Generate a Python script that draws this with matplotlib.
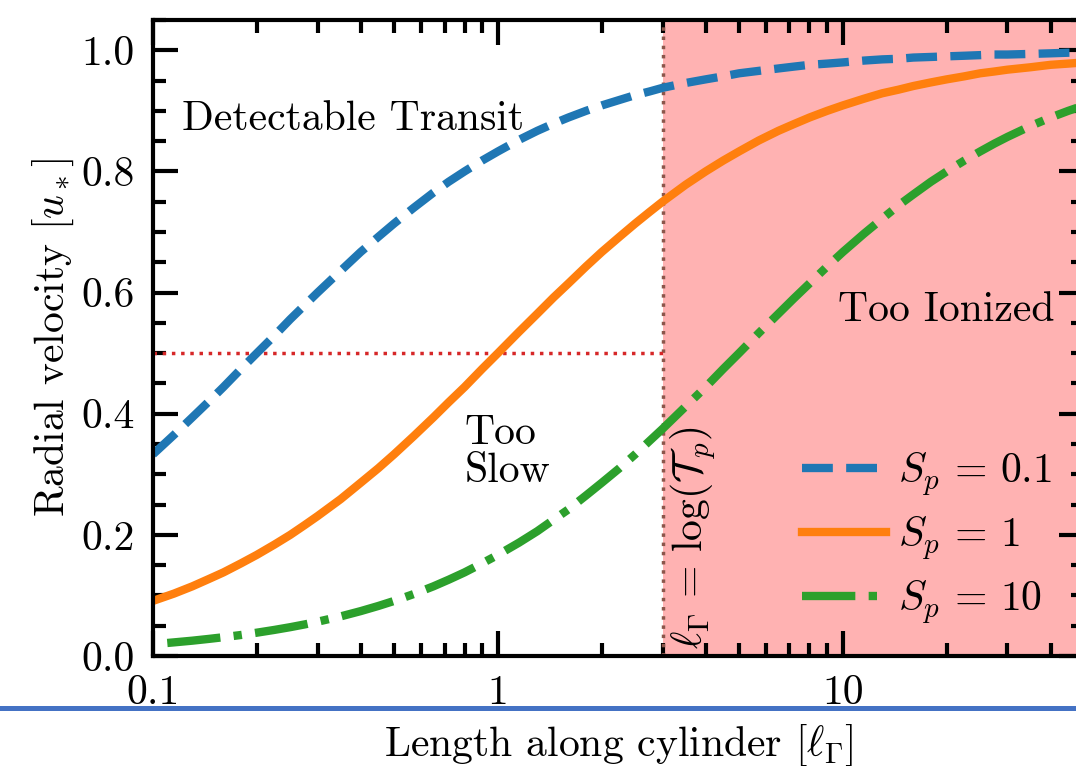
import matplotlib
matplotlib.use("Agg")
import matplotlib.pyplot as plt
from matplotlib.lines import Line2D
from matplotlib.ticker import MultipleLocator, LogLocator, NullFormatter

plt.rcParams['font.family'] = 'serif'
plt.rcParams['font.serif'] = ['cmr10']
plt.rcParams['mathtext.fontset'] = 'cm'
plt.rcParams['axes.formatter.use_mathtext'] = True
plt.rcParams['axes.unicode_minus'] = False

# values
length = [0.1, 0.115, 0.13, 0.145, 0.16, 0.18, 0.2, 0.225, 0.25, 0.275, 0.3, 0.35, 0.4,
          0.45, 0.5, 0.57, 0.65, 0.72, 0.8, 0.9, 1.0, 1.15, 1.3, 1.45, 1.6, 1.8, 2.0,
          2.25, 2.5, 2.75, 3.0, 3.5, 4.0, 4.5, 5.0, 5.7, 6.5, 7.2, 8.0, 9.0, 10, 11.5,
          13, 14.5, 16, 18, 20, 22.5, 25, 27.5, 30, 35, 40, 45, 50]
vel_s01 = [0.333, 0.365, 0.394, 0.420, 0.444, 0.474, 0.5, 0.529, 0.556, 0.579, 0.6,
           0.636, 0.667, 0.692, 0.714, 0.740, 0.765, 0.783, 0.8, 0.818, 0.833, 0.852,
           0.867, 0.879, 0.889, 0.9, 0.909, 0.918, 0.926, 0.932, 0.938, 0.946, 0.952,
           0.957, 0.962, 0.966, 0.970, 0.973, 0.976, 0.978, 0.980, 0.983, 0.985, 0.986,
           0.988, 0.989, 0.990, 0.991, 0.992, 0.993, 0.993, 0.994, 0.995, 0.996, 0.996]
vel_s1 = [0.091, 0.103, 0.115, 0.127, 0.138, 0.153, 0.167, 0.184, 0.2, 0.216, 0.231,
          0.259, 0.286, 0.310, 0.333, 0.363, 0.394, 0.419, 0.444, 0.474, 0.5, 0.535,
          0.565, 0.592, 0.615, 0.643, 0.667, 0.692, 0.714, 0.733, 0.75, 0.778, 0.8,
          0.818, 0.833, 0.851, 0.867, 0.878, 0.889, 0.9, 0.909, 0.92, 0.929, 0.935,
          0.941, 0.947, 0.952, 0.957, 0.962, 0.965, 0.968, 0.972, 0.976, 0.978, 0.980]
length_s10 = [0.11] + length[1:]
vel_s10 = [0.0215, 0.0225, 0.0253, 0.0282, 0.031, 0.0347, 0.0385, 0.0431, 0.0476,
           0.0521, 0.0566, 0.0654, 0.0741, 0.0826, 0.0909, 0.1023, 0.115, 0.126, 0.138,
           0.153, 0.167, 0.187, 0.206, 0.225, 0.242, 0.265, 0.286, 0.310, 0.333, 0.355,
           0.375, 0.412, 0.444, 0.474, 0.5, 0.533, 0.565, 0.590, 0.615, 0.643, 0.667,
           0.697, 0.722, 0.744, 0.762, 0.783, 0.8, 0.818, 0.833, 0.846, 0.857, 0.875,
           0.889, 0.9, 0.909]

ion_length = 3.0
half_speed = 0.5
xticks = [0.1, 1, 10]
xticklabels = ['0.1', '1', '10']
yticks = [0.0, 0.2, 0.4, 0.6, 0.8, 1.0]
yticklabels = ['0.0', '0.2', '0.4', '0.6', '0.8', '1.0']

fig = plt.figure(figsize=(10.76, 7.66), dpi=100)
ax = fig.add_axes([153/1076, 1 - 656/766, (1084 - 153)/1076, (656 - 20)/766])

ax.axvspan(ion_length, 60, color='red', alpha=0.3, lw=0)
ax.axvline(ion_length, color='C5', ls=':', lw=2.5)
ax.plot([0.1, ion_length], [half_speed, half_speed], color='C3', ls=':', lw=2.5)

ax.plot(length, vel_s01, color='C0', ls='--', lw=6, label=r'$S_p\,=\,0.1$')
ax.plot(length, vel_s1, color='C1', ls='-', lw=6, label=r'$S_p\,=\,1$')
ax.plot(length_s10, vel_s10, color='C2', ls='-.', lw=6, label=r'$S_p\,=\,10$')

ax.set_xscale('log')
ax.set_xlim(0.1, 50)
ax.set_ylim(0, 1.05)
ax.set_xticks(xticks)
ax.set_xticklabels(xticklabels)
ax.xaxis.set_minor_locator(LogLocator(base=10, subs=range(2, 10)))
ax.xaxis.set_minor_formatter(NullFormatter())
ax.set_yticks(yticks)
ax.set_yticklabels(yticklabels)
ax.yaxis.set_minor_locator(MultipleLocator(0.05))

ax.tick_params(which='both', direction='in', top=True, right=True, width=3, labelsize=30, pad=13)
ax.tick_params(which='major', length=18)
ax.tick_params(which='minor', length=9.5)
for sp in ax.spines.values():
    sp.set_linewidth(3)

ax.set_xlabel(r'Length along cylinder [$\ell_\Gamma$]', fontsize=30, labelpad=8)
ax.set_ylabel(r'Radial velocity [$u_*$]', fontsize=30)

ax.text(0.121, 0.886, 'Detectable Transit', fontsize=30, va='center', ha='left')
ax.text(0.8, 0.336, 'Too\nSlow', fontsize=30, va='center', ha='left', linespacing=1.0)
ax.text(41, 0.57, 'Too Ionized', fontsize=30, va='center', ha='right')
ax.text(3.12, 0.012, r'$\ell_\Gamma\,=\,\log(\mathcal{T}_p)$', fontsize=30, rotation=90,
        va='bottom', ha='left')

ax.legend(loc='lower right', bbox_to_anchor=(1.006, -0.012), frameon=False, fontsize=30,
          handlelength=2.0, handletextpad=0.3, labelspacing=0.40)

fig.add_artist(Line2D([0, 1], [1 - 708/766, 1 - 708/766], transform=fig.transFigure,
                      color='#4472c4', lw=3.6))

fig.savefig('out.png', dpi=100)
